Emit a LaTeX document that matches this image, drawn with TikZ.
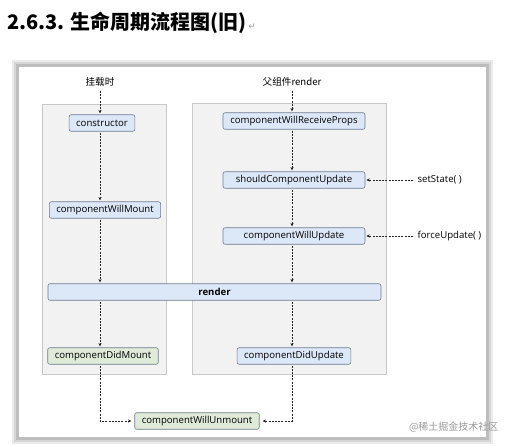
\documentclass[tikz,border=0pt]{standalone}
\usepackage{fontspec}
\setmainfont{Open Sans}
\newfontfamily\cjkfont{Noto Sans CJK SC}
\newfontfamily\symfont{DejaVu Sans}
\usetikzlibrary{arrows.meta}
\definecolor{boxblue}{HTML}{DCE8F7}
\definecolor{boxgreen}{HTML}{DFEAD8}
\definecolor{boxline}{HTML}{6E7C90}
\definecolor{colfill}{HTML}{F2F2F2}
\definecolor{colline}{HTML}{C8C8C8}
\begin{document}
\begin{tikzpicture}[x=1pt,y=-1pt,>={Stealth[length=3.5pt,width=3.2pt]},
	font=\fontsize{9.6}{11}\selectfont,
	stage/.style={draw=boxline,fill=boxblue,rounded corners=2pt,minimum height=16.5pt,inner xsep=7pt,inner ysep=0pt,line width=0.6pt},
	done/.style={stage,fill=boxgreen},
	wide/.style={stage,minimum width=142pt},
	cjk/.style={font=\cjkfont\fontsize{9.6}{11}\selectfont},
	flow/.style={->,dash pattern=on 2pt off 1.2pt,line width=0.8pt,draw=black!85,shorten >=1pt,shorten <=1pt}]
	\useasboundingbox (0,0) rectangle (512,445);
	\fill[black!8] (12,60) rectangle (493,444);
	\fill[black!16] (14,62) rectangle (491,442);
	\fill[black!26] (16,64) rectangle (489,440);
	\fill[white] (19,67) rectangle (486,437);
	\draw[colline,fill=colfill] (42,104) rectangle (166,374);
	\draw[colline,fill=colfill] (192,103) rectangle (386,374);
	\node[anchor=base west,inner sep=0pt,font=\cjkfont\bfseries\fontsize{20}{23}\selectfont] (title) at (7,29) {2.6.3. 生命周期流程图(旧)};
	\node[anchor=base west,inner sep=1pt,text=black!40,font=\symfont\fontsize{9}{10}\selectfont] (ret) at (title.base east) {↵};
	\node[cjk] (mount) at (100,82) {挂载时};
	\node[cjk] (parent) at (292,82) {父组件render};
	\node[stage] (ctor) at (102,123) {constructor};
	\node[stage] (willmount) at (105,210) {componentWillMount};
	\node[wide] (props) at (294,121) {componentWillReceiveProps};
	\node[wide] (should) at (294,180) {shouldComponentUpdate};
	\node[wide] (willupdate) at (294,236) {componentWillUpdate};
	\node[stage,minimum width=333pt,font=\bfseries\fontsize{9.6}{11}\selectfont] (render) at (214.5,292) {render};
	\node[done] (didmount) at (103,356) {componentDidMount};
	\node[stage] (didupdate) at (294,356) {componentDidUpdate};
	\node[done] (unmount) at (197,421) {componentWillUnmount};
	\node[anchor=west] (setstate) at (414,180) {setState( )};
	\node[anchor=west] (force) at (414,236) {forceUpdate( )};
	\node[anchor=east,text=black!40,font=\cjkfont\fontsize{10}{12}\selectfont] (mark) at (502,427) {@稀土掘金技术社区};
	\draw[flow] (mount.south -| mount) -- (mount |- ctor.north);
	\draw[flow] (ctor.south -| mount) -- (mount |- willmount.north);
	\draw[flow] (willmount.south -| mount) -- (mount |- render.north);
	\draw[flow] (render.south -| mount) -- (mount |- didmount.north);
	\draw[flow] (parent.south -| parent) -- (parent |- props.north);
	\draw[flow] (props.south -| parent) -- (parent |- should.north);
	\draw[flow] (should.south -| parent) -- (parent |- willupdate.north);
	\draw[flow] (willupdate.south -| parent) -- (parent |- render.north);
	\draw[flow] (render.south -| parent) -- (parent |- didupdate.north);
	\draw[flow] (setstate) -- (should);
	\draw[flow] (force) -- (willupdate);
	\draw[flow,shorten >=3pt] (didmount.south -| mount) |- (unmount.west);
	\draw[flow,shorten >=3pt] (didupdate.south -| parent) |- (unmount.east);
\end{tikzpicture}
\end{document}
